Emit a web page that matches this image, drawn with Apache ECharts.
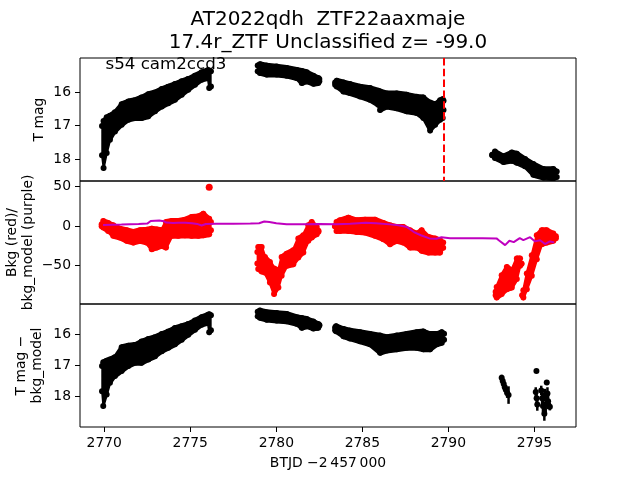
<!DOCTYPE html>
<html><head><meta charset="utf-8">
<script src="https://cdn.jsdelivr.net/npm/echarts@6/dist/echarts.min.js"></script>
<style>html,body{margin:0;padding:0;background:#fff}#c{width:640px;height:480px}</style>
</head><body><div id="c"></div>
<script>
// ---------- axis settings / ticks ----------
const xTicks = [2770, 2775, 2780, 2785, 2790, 2795];
const magTicks = [16, 17, 18];
const bkgTicks = [-50, 0, 50];
const xRange = [2768.59, 2797.42];
const mag1Range = [14.99, 18.65];
const bkgRange = [-98.4, 57.0];
const mag3Range = [15.04, 18.97];
const discoveryT = 2789.73;

// ---------- Panel 1: T mag (envelope of dense points: time, bright edge, faint edge) ----------
const p1A_t  = [2769.87, 2769.96, 2770.14, 2770.33, 2770.62, 2771.01, 2771.40, 2771.78, 2772.17, 2772.56, 2772.95, 2773.34, 2773.72, 2774.11, 2774.50, 2774.88, 2775.27, 2775.66, 2776.02, 2776.10, 2776.20];
const p1A_hi = [16.95, 16.80, 16.69, 16.64, 16.54, 16.30, 16.22, 16.18, 16.10, 16.00, 15.95, 15.85, 15.78, 15.70, 15.62, 15.55, 15.45, 15.35, 15.29, 15.30, 15.32];
const p1A_lo = [17.95, 18.33, 17.88, 17.49, 17.24, 17.04, 16.89, 16.84, 16.84, 16.79, 16.64, 16.50, 16.40, 16.30, 16.15, 16.00, 15.85, 15.70, 15.65, 15.95, 15.90];

const p1B_t  = [2778.92, 2779.05, 2779.44, 2780.02, 2780.60, 2781.19, 2781.48, 2781.77, 2782.15, 2782.44, 2782.50];
const p1B_hi = [15.15, 15.11, 15.15, 15.18, 15.22, 15.28, 15.31, 15.35, 15.45, 15.52, 15.55];
const p1B_lo = [15.45, 15.50, 15.55, 15.55, 15.58, 15.65, 15.80, 15.75, 15.82, 15.80, 15.75];

const p1C_t  = [2783.42, 2783.51, 2783.90, 2784.28, 2784.87, 2785.45, 2785.93, 2786.03, 2786.42, 2787.00, 2787.58, 2788.16, 2788.55, 2788.94, 2789.23, 2789.52, 2789.67, 2789.72];
const p1C_hi = [15.65, 15.60, 15.65, 15.70, 15.78, 15.82, 15.90, 15.92, 15.98, 15.98, 16.02, 16.08, 16.10, 16.25, 16.30, 16.18, 16.15, 16.20];
const p1C_lo = [15.85, 15.90, 16.05, 16.10, 16.20, 16.30, 16.45, 16.60, 16.50, 16.55, 16.64, 16.69, 16.84, 17.21, 17.04, 16.89, 16.84, 16.60];

const p1D_t  = [2792.55, 2792.71, 2793.20, 2793.69, 2793.98, 2794.46, 2794.94, 2795.52, 2796.10, 2796.30];
const p1D_hi = [17.80, 17.71, 17.85, 17.74, 17.77, 17.93, 18.08, 18.23, 18.23, 18.30];
const p1D_lo = [17.95, 18.03, 18.15, 18.11, 18.17, 18.28, 18.53, 18.61, 18.63, 18.60];

// ---------- Panel 2: Bkg (red envelopes) and bkg_model (purple line) ----------
const p2A_t  = [2769.85, 2769.94, 2770.23, 2770.52, 2770.91, 2771.30, 2771.69, 2772.08, 2772.47, 2772.76, 2773.05, 2773.34, 2773.59, 2773.92, 2774.30, 2774.69, 2775.08, 2775.47, 2775.76, 2776.10, 2776.20];
const p2A_hi = [5, 9.2, 6.7, 3.8, -0.4, -2.5, -4.6, -2.5, -1.7, -0.4, -1.5, -2.5, 8.0, 9.2, 9.2, 10.9, 14.3, 15.1, 18.5, 12.2, 8];
const p2A_lo = [-3, -4.6, -8.8, -15.1, -17.2, -21.4, -23.5, -21.4, -23.5, -31.9, -29.8, -27.7, -29.8, -15.1, -15.1, -14.3, -15.1, -15.1, -14.3, -13.0, -8];
const p2_outT = [2776.10];
const p2_outV = [49.2];

const p2B_t  = [2778.90, 2778.95, 2779.15, 2779.34, 2779.63, 2779.87, 2780.12, 2780.31, 2780.60, 2780.99, 2781.28, 2781.57, 2781.86, 2782.06, 2782.35, 2782.45];
const p2B_hi = [-30, -23.5, -23.5, -36.2, -42.5, -50.9, -53, -36.2, -32, -27.7, -13, -8.8, 3.8, 8.0, 1.7, -3];
const p2B_lo = [-50, -57.1, -60, -61.4, -74.0, -88.7, -80.3, -65.6, -53, -50.9, -42.5, -36.2, -21.4, -17.2, -13, -10];

const p2C_t  = [2783.41, 2783.50, 2783.70, 2784.19, 2784.67, 2785.16, 2785.74, 2786.22, 2786.61, 2787.00, 2787.38, 2787.77, 2788.16, 2788.45, 2788.84, 2789.23, 2789.52, 2789.70];
const p2C_hi = [3, 8, 10.1, 13.5, 10.1, 10.9, 10.9, 6.7, 3.8, 1.7, 1.7, -2.5, -6.7, -2.5, -10.9, -13, -15.1, -18];
const p2C_lo = [-3, -8.8, -8.8, -8.8, -10.1, -11, -15.1, -19.3, -25.6, -21.4, -23.5, -29.8, -29.8, -34, -36.2, -36.2, -36.2, -30];

const p2D1_t  = [2792.75, 2792.81, 2793.10, 2793.40, 2793.69, 2793.98, 2794.17, 2794.25];
const p2D1_hi = [-80, -74, -59.3, -48.8, -53, -38.2, -38.2, -45];
const p2D1_lo = [-90, -92.9, -88.7, -82.4, -80.3, -69.7, -53, -50];

const p2D2_t  = [2794.30, 2794.36, 2794.56, 2794.85, 2795.14, 2795.43, 2795.72, 2796.10, 2796.25];
const p2D2_hi = [-85, -78.2, -57.1, -34, -8.8, -2.5, -2.5, -6.7, -10];
const p2D2_lo = [-90, -92.9, -82.4, -65.6, -44.5, -25.6, -23.5, -21.4, -18];

const modelT = [2769.93, 2770.5, 2771.0, 2771.5, 2772.0, 2772.5, 2772.7, 2773.2, 2773.45, 2773.6, 2774.0, 2774.3, 2774.7, 2775.1, 2775.4, 2775.66, 2775.9, 2776.5, 2777.5, 2778.5, 2779.0, 2779.3, 2779.6, 2780.0, 2780.6, 2781.5, 2782.5, 2783.5, 2784.3, 2785.2, 2785.8, 2786.6, 2787.1, 2787.6, 2788.0, 2788.4, 2788.9, 2789.3, 2789.6, 2790.1, 2791.0, 2792.0, 2792.8, 2792.95, 2793.3, 2793.55, 2793.8, 2794.15, 2794.36, 2794.75, 2795.04, 2795.33, 2795.62, 2795.9, 2796.15];
const modelV = [1.5, 1.8, 2.0, 2.3, 2.6, 3.2, 6.5, 7.0, 6.2, 4.5, 4.0, 4.2, 4.4, 3.6, 2.8, 0.8, 2.6, 2.9, 3.0, 3.2, 3.6, 5.8, 5.2, 3.6, 2.4, 2.5, 2.6, 2.5, 2.9, 4.4, 3.6, 2.2, 1.0, -1.2, -7.5, -11.5, -15.5, -16.0, -14.0, -15.2, -15.4, -15.4, -15.5, -18.1, -24.0, -18.5, -20.2, -15.1, -17.6, -14.0, -19.3, -17.8, -22.7, -19.3, -20.6];

// ---------- Panel 3: T mag - bkg_model ----------
const p3A_t  = [2769.87, 2769.94, 2770.14, 2770.33, 2770.62, 2771.01, 2771.40, 2771.78, 2772.17, 2772.56, 2772.95, 2773.34, 2773.72, 2774.11, 2774.50, 2774.88, 2775.27, 2775.66, 2776.02, 2776.10, 2776.20];
const p3A_hi = [16.95, 16.83, 16.78, 16.74, 16.67, 16.35, 16.30, 16.28, 16.17, 16.09, 16.03, 15.93, 15.85, 15.74, 15.68, 15.61, 15.50, 15.39, 15.32, 15.30, 15.33];
const p3A_lo = [17.90, 18.37, 18.00, 17.63, 17.41, 17.25, 17.09, 16.99, 16.99, 16.88, 16.78, 16.62, 16.51, 16.40, 16.25, 16.09, 15.93, 15.77, 15.71, 16.01, 15.95];

const p3B_t  = [2778.92, 2779.05, 2779.44, 2780.02, 2780.60, 2781.19, 2781.48, 2781.77, 2782.15, 2782.44, 2782.50];
const p3B_hi = [15.22, 15.18, 15.23, 15.26, 15.29, 15.39, 15.42, 15.45, 15.53, 15.61, 15.64];
const p3B_lo = [15.50, 15.55, 15.61, 15.64, 15.66, 15.74, 15.87, 15.82, 15.89, 15.87, 15.80];

const p3C_t  = [2783.42, 2783.47, 2783.90, 2784.28, 2784.87, 2785.45, 2786.03, 2786.42, 2787.00, 2787.58, 2788.16, 2788.55, 2788.94, 2789.33, 2789.62, 2789.75];
const p3C_hi = [15.72, 15.68, 15.77, 15.82, 15.87, 15.93, 15.98, 16.03, 15.98, 15.93, 15.87, 15.85, 15.93, 15.93, 15.87, 15.92];
const p3C_lo = [15.95, 15.98, 16.14, 16.21, 16.30, 16.40, 16.67, 16.60, 16.56, 16.51, 16.51, 16.56, 16.56, 16.40, 16.35, 16.25];

const p3D_t   = [2793.10, 2793.16, 2793.22, 2793.28, 2793.34, 2793.42, 2793.50, 2795.12, 2795.08, 2795.13, 2795.17, 2795.40, 2795.45, 2795.50, 2795.58, 2795.62, 2795.66, 2795.72, 2795.76, 2795.80, 2795.90];
const p3D_mag = [17.40, 17.50, 17.60, 17.70, 17.78, 17.88, 17.95, 17.18, 17.85, 18.05, 18.25, 17.80, 18.05, 18.30, 18.55, 17.95, 18.25, 17.55, 17.90, 18.15, 18.32];
const p3D_err = [0.10, 0.12, 0.12, 0.12, 0.14, 0.16, 0.28, 0.05, 0.15, 0.20, 0.20, 0.15, 0.20, 0.20, 0.22, 0.20, 0.25, 0.08, 0.20, 0.25, 0.12];

// ---------- build chart ----------
const FONT = 'DejaVu Sans';
const TICKFS = 13.9;
const grids = [58, 181, 304].map(top => ({left: 80, width: 496, top: top, height: 123, show: true, borderColor: '#000', borderWidth: 1, backgroundColor: 'transparent'}));
const fmt = v => (v < 0 ? '\u2212' + Math.abs(v) : String(v));

function xAx(i) {
  const bottom = i === 2;
  return {
    type: 'value', gridIndex: i, min: xRange[0], max: xRange[1],
    axisLine: {show: false}, splitLine: {show: false},
    axisTick: {show: bottom, customValues: xTicks, length: 5, lineStyle: {color: '#000', width: 1}},
    axisLabel: {show: bottom, customValues: xTicks, margin: 9, color: '#000', fontFamily: FONT, fontSize: TICKFS, formatter: fmt}
  };
}
function yAx(i, range, ticks, inverse) {
  return {
    type: 'value', gridIndex: i, min: range[0], max: range[1], inverse: inverse,
    axisLine: {show: false}, splitLine: {show: false},
    axisTick: {show: true, customValues: ticks, length: 5, lineStyle: {color: '#000', width: 1}},
    axisLabel: {show: true, customValues: ticks, margin: 9, color: '#000', fontFamily: FONT, fontSize: TICKFS, formatter: fmt}
  };
}
// dense point cloud drawn as its envelope polygon, with round dots at the sampled edge points
function band(i, t, hi, lo, color) {
  return {
    type: 'custom', xAxisIndex: i, yAxisIndex: i, clip: true, silent: true, z: 2,
    data: [[t[0], hi[0]]],
    renderItem: function (params, api) {
      const top = [], bot = [];
      for (let k = 0; k < t.length; k++) { top.push(api.coord([t[k], hi[k]])); bot.push(api.coord([t[k], lo[k]])); }
      const pts = top.concat(bot.slice().reverse());
      const children = [{type: 'polygon', shape: {points: pts}, style: {fill: color, stroke: color, lineWidth: 1.5, lineJoin: 'round'}}];
      for (let k = 0; k < t.length; k++) {
        const s = Math.sign(bot[k][1] - top[k][1]) || 1;
        const gap = Math.abs(bot[k][1] - top[k][1]);
        const off = Math.min(2.2, gap / 2);
        children.push({type: 'circle', shape: {cx: top[k][0], cy: top[k][1] + s * off, r: 3}, style: {fill: color}});
        children.push({type: 'circle', shape: {cx: bot[k][0], cy: bot[k][1] - s * off, r: 3}, style: {fill: color}});
      }
      return {type: 'group', children: children};
    }
  };
}
function errPoints(i, t, m, e, color) {
  return {
    type: 'custom', xAxisIndex: i, yAxisIndex: i, clip: true, silent: true, z: 3,
    data: t.map((tv, k) => [tv, m[k], e[k]]),
    renderItem: function (params, api) {
      const tv = api.value(0), mv = api.value(1), ev = api.value(2);
      const c = api.coord([tv, mv]);
      const a = api.coord([tv, mv - ev]);
      const b = api.coord([tv, mv + ev]);
      return {type: 'group', children: [
        {type: 'line', shape: {x1: a[0], y1: a[1], x2: b[0], y2: b[1]}, style: {stroke: color, lineWidth: 2.5}},
        {type: 'circle', shape: {cx: c[0], cy: c[1], r: 3}, style: {fill: color}}
      ]};
    }
  };
}

const zip = (a, b) => a.map((v, k) => [v, b[k]]);

const option = {
  animation: false,
  backgroundColor: '#fff',
  grid: grids,
  xAxis: [xAx(0), xAx(1), xAx(2)],
  yAxis: [yAx(0, mag1Range, magTicks, true), yAx(1, bkgRange, bkgTicks, false), yAx(2, mag3Range, magTicks, true)],
  series: [
    band(0, p1A_t, p1A_hi, p1A_lo, '#000'),
    band(0, p1B_t, p1B_hi, p1B_lo, '#000'),
    band(0, p1C_t, p1C_hi, p1C_lo, '#000'),
    band(0, p1D_t, p1D_hi, p1D_lo, '#000'),
    {
      type: 'line', xAxisIndex: 0, yAxisIndex: 0, data: [], silent: true, z: 5,
      markLine: {silent: true, symbol: 'none', label: {show: false},
        lineStyle: {color: '#ff0000', width: 2, type: [7.5, 3.3], opacity: 1},
        emphasis: {disabled: true},
        data: [{xAxis: discoveryT}]}
    },
    band(1, p2A_t, p2A_hi, p2A_lo, '#ff0000'),
    band(1, p2B_t, p2B_hi, p2B_lo, '#ff0000'),
    band(1, p2C_t, p2C_hi, p2C_lo, '#ff0000'),
    band(1, p2D1_t, p2D1_hi, p2D1_lo, '#ff0000'),
    band(1, p2D2_t, p2D2_hi, p2D2_lo, '#ff0000'),
    {type: 'scatter', xAxisIndex: 1, yAxisIndex: 1, data: zip(p2_outT, p2_outV), symbolSize: 7, itemStyle: {color: '#ff0000', opacity: 1}, silent: true},
    {type: 'line', xAxisIndex: 1, yAxisIndex: 1, data: zip(modelT, modelV), showSymbol: false, symbol: 'none', silent: true, z: 4,
      lineStyle: {color: '#bf00bf', width: 2}},
    band(2, p3A_t, p3A_hi, p3A_lo, '#000'),
    band(2, p3B_t, p3B_hi, p3B_lo, '#000'),
    band(2, p3C_t, p3C_hi, p3C_lo, '#000'),
    errPoints(2, p3D_t, p3D_mag, p3D_err, '#000')
  ],
  graphic: [
    {type: 'text', x: 328, y: 31, z: 10, style: {text: 'AT2022qdh  ZTF22aaxmaje\n17.4r_ZTF Unclassified z= -99.0', fontFamily: FONT, fontSize: 20, lineHeight: 23, fill: '#000', align: 'center', verticalAlign: 'middle', textAlign: 'center', textVerticalAlign: 'middle'}},
    {type: 'text', x: 105.5, y: 65, z: 10, style: {text: 's54 cam2ccd3', fontFamily: FONT, fontSize: 16.67, fill: '#000', align: 'left', verticalAlign: 'middle', textAlign: 'left', textVerticalAlign: 'middle'}},
    {type: 'text', x: 39, y: 119.5, rotation: Math.PI / 2, z: 10, style: {text: 'T mag', fontFamily: FONT, fontSize: TICKFS, fill: '#000', align: 'center', verticalAlign: 'middle', textAlign: 'center', textVerticalAlign: 'middle'}},
    {type: 'text', x: 20.5, y: 242.5, rotation: Math.PI / 2, z: 10, style: {text: 'Bkg (red)/\nbkg_model (purple)', fontFamily: FONT, fontSize: TICKFS, lineHeight: 16.7, fill: '#000', align: 'center', verticalAlign: 'middle', textAlign: 'center', textVerticalAlign: 'middle'}},
    {type: 'text', x: 29.5, y: 365.5, rotation: Math.PI / 2, z: 10, style: {text: 'T mag \u2212\nbkg_model', fontFamily: FONT, fontSize: TICKFS, lineHeight: 16.7, fill: '#000', align: 'center', verticalAlign: 'middle', textAlign: 'center', textVerticalAlign: 'middle'}},
    {type: 'text', x: 328, y: 463, z: 10, style: {text: 'BTJD \u22122\u2009457\u2009000', fontFamily: FONT, fontSize: TICKFS, fill: '#000', align: 'center', verticalAlign: 'middle', textAlign: 'center', textVerticalAlign: 'middle'}}
  ]
};
const chart = echarts.init(document.getElementById('c'), null, {renderer: 'canvas'});
chart.setOption(option);
</script>
</body></html>
